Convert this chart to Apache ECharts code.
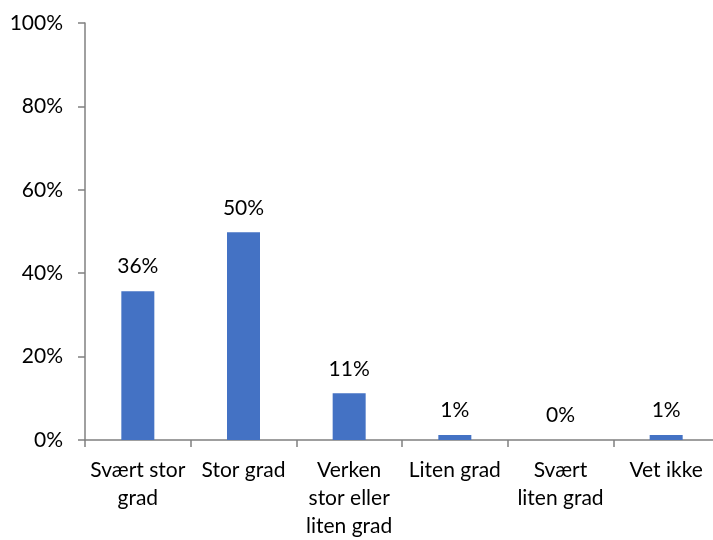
<!DOCTYPE html>
<html><head><meta charset="utf-8">
<script src="https://cdn.jsdelivr.net/npm/echarts@6/dist/echarts.min.js"></script>
<style>html,body{margin:0;padding:0;background:#fff}#c{width:713px;height:540px}</style>
</head><body><div id="c"></div>
<script>
const categories = ["Svært stor\ngrad", "Stor grad", "Verken\nstor eller\nliten grad", "Liten grad", "Svært\nliten grad", "Vet ikke"];
const values = [35.7, 49.8, 11.2, 1.2, 0, 1.2];
const yTicks = [0, 20, 40, 60, 80, 100];

const font = "Lato, 'Liberation Sans', sans-serif";
const chart = echarts.init(document.getElementById('c'), null, {renderer: 'canvas'});
chart.setOption({
  animation: false,
  grid: {left: 85, top: 23, bottom: 100, right: -6, containLabel: false, outerBoundsMode: 'none'},
  xAxis: {
    type: 'category', data: categories,
    axisLine: {lineStyle: {color: '#808080', width: 1.5}},
    axisTick: {show: true, length: 7, alignWithLabel: false, lineStyle: {color: '#808080', width: 1.5}},
    axisLabel: {interval: 0, color: '#000', fontFamily: font, fontSize: 21, lineHeight: 28, margin: 16}
  },
  yAxis: {
    type: 'value', min: yTicks[0], max: yTicks[yTicks.length - 1], interval: 20,
    axisLine: {show: true, lineStyle: {color: '#808080', width: 1.5}},
    axisTick: {show: true, length: 7, lineStyle: {color: '#808080', width: 1.5}},
    splitLine: {show: false},
    axisLabel: {color: '#000', fontFamily: font, fontSize: 21, margin: 22, formatter: v => v + '%'}
  },
  series: [{
    type: 'bar', data: values, barWidth: 33,
    itemStyle: {color: '#4472C4'},
    label: {show: true, position: 'top', distance: 14, color: '#000', fontFamily: font, fontSize: 21,
      formatter: p => Math.round(p.value) + '%'}
  }]
});
</script></body></html>
